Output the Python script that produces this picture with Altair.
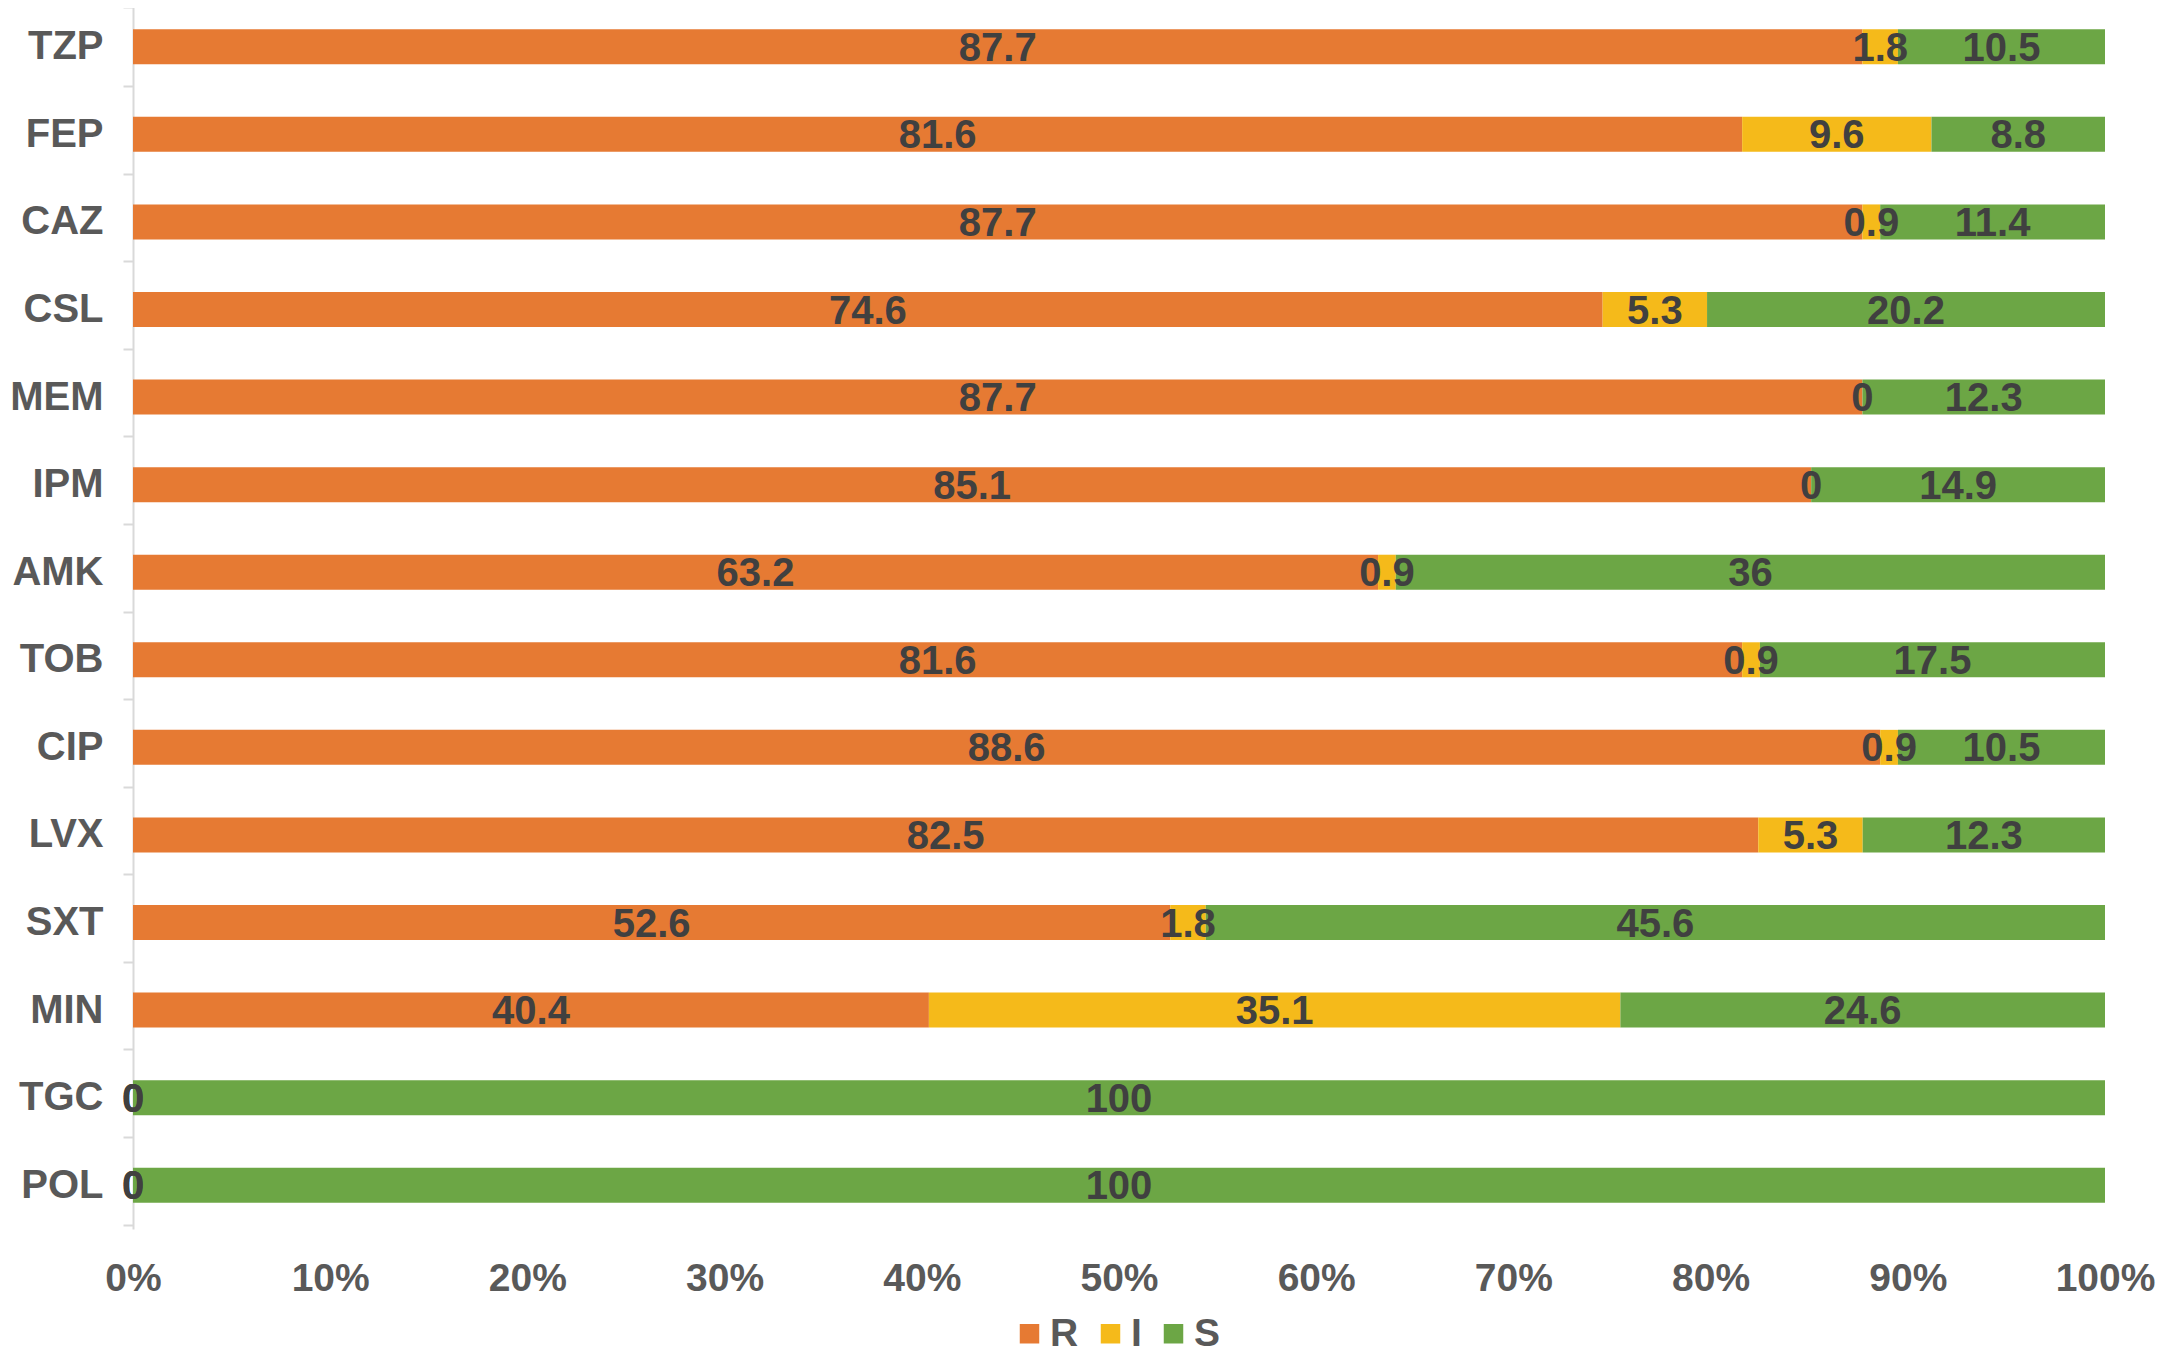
import altair as alt
import pandas as pd

drugs = ["TZP", "FEP", "CAZ", "CSL", "MEM", "IPM", "AMK", "TOB", "CIP", "LVX", "SXT", "MIN", "TGC", "POL"]
r_vals = [87.7, 81.6, 87.7, 74.6, 87.7, 85.1, 63.2, 81.6, 88.6, 82.5, 52.6, 40.4, 0, 0]
i_vals = [1.8, 9.6, 0.9, 5.3, 0, 0, 0.9, 0.9, 0.9, 5.3, 1.8, 35.1, 0, 0]
s_vals = [10.5, 8.8, 11.4, 20.2, 12.3, 14.9, 36, 17.5, 10.5, 12.3, 45.6, 24.6, 100, 100]
categories = ["R", "I", "S"]
colors = ["#E67A33", "#F5BA1A", "#6CA645"]
x_ticks = [0, 0.1, 0.2, 0.3, 0.4, 0.5, 0.6, 0.7, 0.8, 0.9, 1.0]

rows = []
for d, r, i, s in zip(drugs, r_vals, i_vals, s_vals):
    for k, (cat, v) in enumerate(zip(categories, [r, i, s])):
        rows.append({"drug": d, "cat": cat, "value": v, "ord": k})
df = pd.DataFrame(rows)

FONT = "Liberation Sans"

base = alt.Chart(df).transform_stack(
    stack="value",
    groupby=["drug"],
    as_=["v0", "v1"],
    offset="normalize",
    sort=[alt.SortField("ord", order="ascending")],
).transform_calculate(mid="(datum.v0 + datum.v1) / 2")

y_axis = alt.Axis(
    labelFont=FONT, labelFontSize=40, labelFontWeight="bold", labelColor="#595959",
    domainColor="#d9d9d9", domainWidth=2, tickColor="#d9d9d9", tickWidth=2,
    tickSize=10, tickBand="extent", labelPadding=20, grid=False,
)
x_axis = alt.Axis(
    values=x_ticks, format=".0%", labelFont=FONT, labelFontSize=39,
    labelFontWeight="bold", labelColor="#595959", domain=False, ticks=False,
    grid=False, labelPadding=30, labelFlush=False, labelBound=False,
)

bars = base.mark_bar(size=35).encode(
    x=alt.X("v0:Q", scale=alt.Scale(domain=[0, 1], nice=False), title=None, axis=x_axis),
    x2="v1:Q",
    y=alt.Y("drug:N", sort=drugs, title=None, axis=y_axis),
    color=alt.Color(
        "cat:N",
        scale=alt.Scale(domain=categories, range=colors),
        legend=alt.Legend(
            title=None, orient="none", legendX=877, legendY=1311, direction="horizontal",
            symbolType="square", symbolSize=380, symbolStrokeWidth=0,
            labelFont=FONT, labelFontSize=39, labelFontWeight="bold", labelColor="#595959",
            labelOffset=1, columnPadding=12,
        ),
    ),
)

texts = base.mark_text(
    font=FONT, fontSize=40, fontWeight="bold", color="#404040", baseline="middle", align="center", dy=2
).encode(
    x=alt.X("mid:Q", scale=alt.Scale(domain=[0, 1], nice=False), title=None, axis=x_axis),
    y=alt.Y("drug:N", sort=drugs, title=None, axis=y_axis),
    text=alt.Text("value:Q"),
)

chart = (bars + texts).properties(
    width=1972, height=1226,
    background="white",
    autosize=alt.AutoSizeParams(type="none"),
    padding={"left": 125, "top": -5, "right": 51, "bottom": 150},
).configure_view(strokeWidth=0)

chart.save("out.html", embed_options={"renderer": "svg", "actions": False})
